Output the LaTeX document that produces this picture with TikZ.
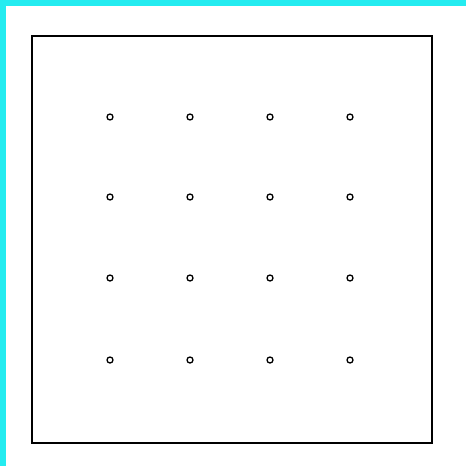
\documentclass[tikz,border=0pt]{standalone}
\definecolor{framecyan}{RGB}{36,236,240}
\tikzset{
  gridpt/.style={circle,draw=black,fill=white,line width=1.3pt,inner sep=0pt,minimum size=6pt}
}
\begin{document}
\begin{tikzpicture}[x=1pt,y=-1pt]
            \useasboundingbox (0,0) rectangle (466,466);
            \fill[framecyan] (0,0) rectangle (466,466);
            \fill[white] (6,6) rectangle (466,466);
            \draw[line width=1.3pt] (32,36) rectangle (432,443);
            \foreach \i/\x in {1/110,2/190,3/270,4/350}
                \foreach \j/\y in {1/117,2/197,3/278,4/360}
                    \node[gridpt] (p\i\j) at (\x,\y) {};
        \end{tikzpicture}
\end{document}
